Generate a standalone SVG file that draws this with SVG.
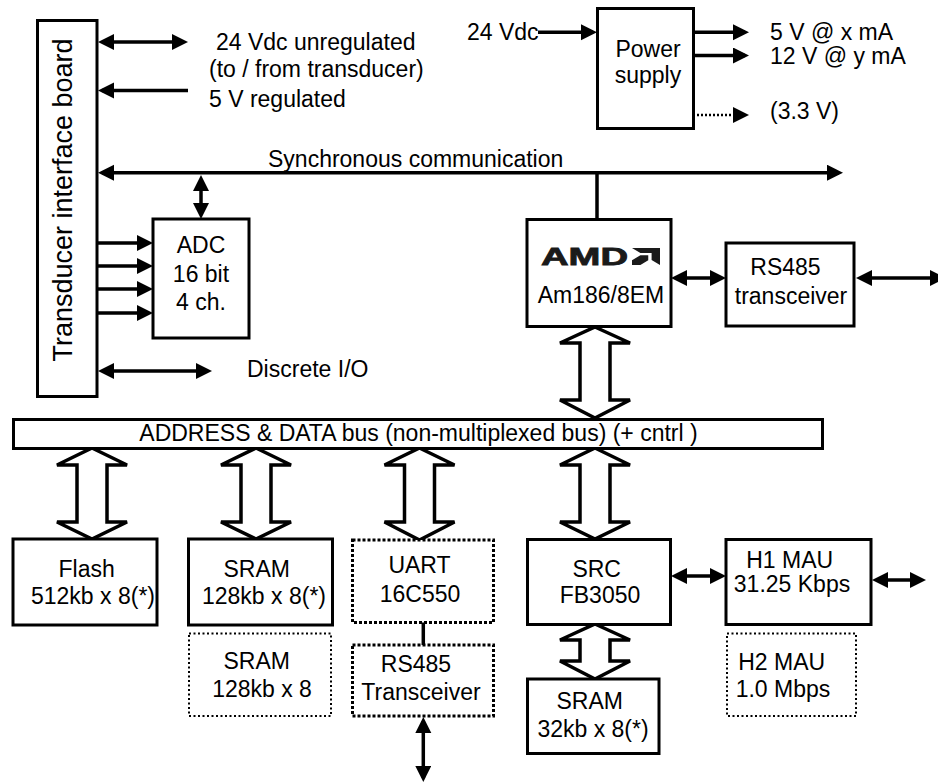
<svg xmlns="http://www.w3.org/2000/svg" width="938" height="783" viewBox="0 0 938 783">
<defs>
<marker id="ah" markerUnits="userSpaceOnUse" markerWidth="17" markerHeight="17" refX="12" refY="8" orient="auto-start-reverse">
<path d="M0,0 L16,8 L0,16 z" fill="#000"/>
</marker>
</defs>
<style>
text{font-family:"Liberation Sans",Arial,sans-serif;font-size:23px;fill:#000}
.m{text-anchor:middle}
.box{fill:#fff;stroke:#000;stroke-width:3}
.dt{fill:#fff;stroke:#000;stroke-width:3;stroke-dasharray:3 2}
.dn{fill:#fff;stroke:#000;stroke-width:2;stroke-dasharray:2 2.5}
.ln{fill:none;stroke:#000;stroke-width:3.5}
.a2{marker-start:url(#ah);marker-end:url(#ah)}
.a1{marker-end:url(#ah)}
.hb{fill:#fff;stroke:#000;stroke-width:3.5;stroke-linejoin:miter}
</style>
<rect width="938" height="783" fill="#fff"/>

<g id="connectors">
<line class="ln a2" x1="102" y1="42" x2="184" y2="42"/>
<line class="ln a1" x1="188" y1="90.5" x2="102" y2="90.5"/>
<line class="ln a2" x1="102" y1="172.7" x2="839" y2="172.7"/>
<line class="ln a2" x1="201" y1="179" x2="201" y2="215"/>
<line class="ln" x1="597" y1="172.7" x2="597" y2="219"/>
<line class="ln a1" x1="97" y1="243" x2="149" y2="243"/>
<line class="ln a1" x1="97" y1="266" x2="149" y2="266"/>
<line class="ln a1" x1="97" y1="289" x2="149" y2="289"/>
<line class="ln a1" x1="97" y1="313" x2="149" y2="313"/>
<line class="ln a2" x1="102" y1="371" x2="208" y2="371"/>
<line class="ln a1" x1="538" y1="32.3" x2="593" y2="32.3"/>
<line class="ln a1" x1="693" y1="32.3" x2="745" y2="32.3"/>
<line class="ln a1" x1="693" y1="55.5" x2="745" y2="55.5"/>
<line class="a1" x1="693" y1="115" x2="745" y2="115" stroke="#000" stroke-width="2.5" stroke-dasharray="2 2"/>
<line class="ln a2" x1="675" y1="278" x2="722" y2="278"/>
<line class="ln a2" x1="860" y1="278" x2="942" y2="278"/>
<line class="ln a2" x1="675" y1="576" x2="722" y2="576"/>
<line class="ln a2" x1="876" y1="580" x2="922" y2="580"/>
<line class="ln" x1="423.3" y1="622" x2="423.3" y2="645"/>
<line class="ln a2" x1="423.3" y1="721" x2="423.3" y2="778"/>
<polygon class="hb" points="595,327 630,343 610,343 610,400 630,400 595,418 560,400 580,400 580,343 560,343"/>
<polygon class="hb" points="92,448 127,465 107,465 107,522 127,522 92,539 57,522 77,522 77,465 57,465"/>
<polygon class="hb" points="256,448 291,465 271,465 271,522 291,522 256,539 221,522 241,522 241,465 221,465"/>
<polygon class="hb" points="419.5,448 454.5,465 434.5,465 434.5,522 454.5,522 419.5,540 384.5,522 404.5,522 404.5,465 384.5,465"/>
<polygon class="hb" points="595,448 630,465 610,465 610,522 630,522 595,539 560,522 580,522 580,465 560,465"/>
<polygon class="hb" points="595,624 630,640 610,640 610,661 630,661 595,679 560,661 580,661 580,640 560,640"/>
</g>

<g id="board">
<rect class="box" x="37.5" y="20.5" width="59.5" height="376"/>
<text class="m" transform="translate(72,200) rotate(-90)" style="font-size:27px">Transducer interface board</text>
</g>
<g id="labels-left">
<text x="216" y="49.5">24 Vdc unregulated</text>
<text x="209" y="76.5">(to / from transducer)</text>
<text x="209" y="107">5 V regulated</text>
<text x="268" y="166.5">Synchronous communication</text>
<text x="247" y="377">Discrete I/O</text>
</g>
<g id="adc">
<rect class="box" x="153" y="219" width="96" height="119"/>
<text class="m" x="201" y="252.5">ADC</text>
<text class="m" x="201" y="281.5">16 bit</text>
<text class="m" x="201" y="310">4 ch.</text>
</g>
<g id="power">
<text x="467" y="40">24 Vdc</text>
<rect class="box" x="597.5" y="8.5" width="96" height="120"/>
<text class="m" x="648" y="57.3">Power</text>
<text class="m" x="648" y="83">supply</text>
<text x="770" y="40">5 V @ x mA</text>
<text x="770" y="64">12 V @ y mA</text>
<text x="770" y="119">(3.3 V)</text>
</g>
<g id="cpu">
<rect class="box" x="527" y="219.5" width="144" height="107"/>
<text x="541" y="265" textLength="87" lengthAdjust="spacingAndGlyphs" style="font-size:24px;font-weight:bold;fill:#1a1a1a;stroke:#1a1a1a;stroke-width:0.8">AMD</text>
<g fill="#1a1a1a" transform="translate(632,248) scale(28,17)">
<polygon points="0,0 1,0 1,1 0.7,0.7 0.7,0.3 0.3,0.3"/>
<polygon points="0.3,0.42 0.58,0.42 0.58,0.72 0.3,1 0,1 0,0.72"/>
</g>
<text class="m" x="601" y="303">Am186/8EM</text>
</g>
<g id="rs485">
<rect class="box" x="726" y="243" width="128" height="83"/>
<text class="m" x="785.5" y="275">RS485</text>
<text class="m" x="791" y="304">transceiver</text>
</g>
<g id="bus">
<rect class="box" x="13.5" y="419.5" width="809" height="29"/>
<text class="m" x="418.5" y="441">ADDRESS &amp; DATA bus (non-multiplexed bus) (+ cntrl )</text>
</g>
<g id="flash">
<rect class="box" x="13" y="539" width="144" height="86"/>
<text class="m" x="86.7" y="576.7">Flash</text>
<text class="m" x="93" y="604">512kb x 8(*)</text>
</g>
<g id="sram1">
<rect class="box" x="188.5" y="539" width="144" height="86"/>
<text class="m" x="256.7" y="576.5">SRAM</text>
<text class="m" x="264" y="604">128kb x 8(*)</text>
</g>
<g id="sram2">
<rect class="dn" x="189" y="633.5" width="142" height="82.5"/>
<text class="m" x="256.7" y="669.3">SRAM</text>
<text class="m" x="262" y="696.5">128kb x 8</text>
</g>
<g id="uart">
<rect class="dt" x="352.5" y="540" width="141" height="82.5"/>
<text class="m" x="419.5" y="573">UART</text>
<text class="m" x="420" y="601.7">16C550</text>
</g>
<g id="rs485t">
<rect class="dt" x="352.5" y="645" width="141" height="71"/>
<text class="m" x="416" y="671.7">RS485</text>
<text class="m" x="421" y="700.3">Transceiver</text>
</g>
<g id="src">
<rect class="box" x="527.5" y="539.5" width="143" height="85"/>
<text class="m" x="596.7" y="576.7">SRC</text>
<text class="m" x="600" y="603.3">FB3050</text>
</g>
<g id="sram3">
<rect class="box" x="527.5" y="679" width="131.5" height="74.5"/>
<text class="m" x="589.7" y="709.3">SRAM</text>
<text class="m" x="593" y="737">32kb x 8(*)</text>
</g>
<g id="h1">
<rect class="box" x="726" y="539.5" width="145" height="85"/>
<text class="m" x="789.7" y="568.3">H1 MAU</text>
<text class="m" x="792" y="591.7">31.25 Kbps</text>
</g>
<g id="h2">
<rect class="dn" x="727" y="633.5" width="129" height="82.5"/>
<text class="m" x="781.7" y="670">H2 MAU</text>
<text class="m" x="783" y="696.7">1.0 Mbps</text>
</g>
</svg>
